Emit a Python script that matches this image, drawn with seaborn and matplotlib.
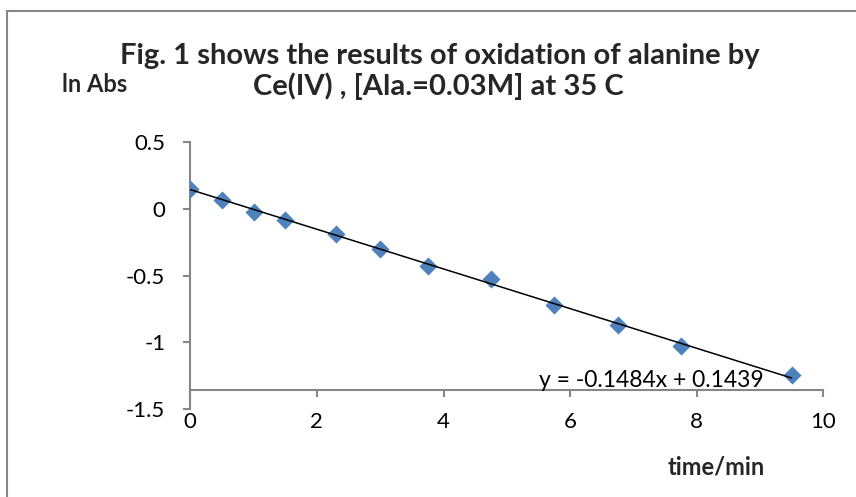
import matplotlib
matplotlib.use("Agg")
import matplotlib.pyplot as plt
import seaborn as sns
import pandas as pd
from matplotlib.patches import Rectangle

# Kinetic run: ln(absorbance) against time
time_min = [0, 0.5, 1.0, 1.5, 2.3, 3.0, 3.75, 4.75, 5.75, 6.75, 7.75, 9.5]
ln_abs = [0.152, 0.063, -0.022, -0.084, -0.191, -0.301, -0.425, -0.522,
          -0.719, -0.870, -1.030, -1.246]

# Linear trendline coefficients
slope = -0.1484
intercept = 0.1439

x_ticks = [0, 2, 4, 6, 8, 10]
y_ticks = [0.5, 0, -0.5, -1, -1.5]
y_tick_labels = ["0.5", "0", "-0.5", "-1", "-1.5"]
x_tick_labels = ["0", "2", "4", "6", "8", "10"]

title_lines = ["Fig. 1 shows the results of oxidation of alanine by",
               "Ce(IV) , [Ala.=0.03M] at 35 C"]
y_label = "ln Abs"
x_label = "time/min"
equation = f"y = {slope}x + {intercept}"

sns.set_theme(style="white")
plt.rcParams["font.family"] = ["Lato", "DejaVu Sans"]
plt.rcParams["axes.unicode_minus"] = False

AXIS_GREY = "#868686"
MARKER_BLUE = "#4F81BD"

fig = plt.figure(figsize=(8.56, 4.97), dpi=100)
ax = fig.add_axes([190.3 / 856, 1 - 409.3 / 497, 633 / 856, 267.3 / 497])

df = pd.DataFrame({"time": time_min, "lnabs": ln_abs})
sns.scatterplot(data=df, x="time", y="lnabs", marker="D", s=85,
                color=MARKER_BLUE, linewidth=0, ax=ax, zorder=3)

trend = pd.DataFrame({"time": [time_min[0], time_min[-1]]})
trend["fit"] = slope * trend["time"] + intercept
sns.lineplot(data=trend, x="time", y="fit", color="black", linewidth=1.1,
             ax=ax, zorder=4)

ax.set_xlim(0, 10)
ax.set_ylim(-1.5, 0.5)
ax.set_xticks(x_ticks)
ax.set_xticklabels(x_tick_labels)
ax.set_yticks(y_ticks)
ax.set_yticklabels(y_tick_labels)
ax.set_xlabel("")
ax.set_ylabel("")

for side in ("top", "right"):
    ax.spines[side].set_visible(False)
for side in ("left", "bottom"):
    ax.spines[side].set_color(AXIS_GREY)
    ax.spines[side].set_linewidth(1.5)
ax.spines["bottom"].set_position(("data", -1.353))

ax.tick_params(axis="both", which="major", direction="out", length=5,
               width=1.5, color=AXIS_GREY, labelsize=16, labelcolor="black",
               bottom=True, left=True)
ax.tick_params(axis="x", pad=11)
ax.tick_params(axis="y", pad=13)

ax.text(7.28, -1.286, equation, ha="center", va="center", fontsize=16.5,
        color="black", zorder=5)

fig.text(440 / 856, 1 - 56 / 497, title_lines[0], ha="center", va="center",
         fontsize=21, fontweight="bold")
fig.text(438 / 856, 1 - 86 / 497, title_lines[1], ha="center", va="center",
         fontsize=21, fontweight="bold")
fig.text(95 / 856, 1 - 85 / 497, y_label, ha="center", va="center",
         fontsize=17, fontweight="bold")
fig.text(716 / 856, 1 - 467 / 497, x_label, ha="center", va="center",
         fontsize=17, fontweight="bold")

# Chart area frame
fig.add_artist(Rectangle((7.5 / 856, -0.1), 2.0, 1 - 10.5 / 497 + 0.1,
                         transform=fig.transFigure, fill=False,
                         edgecolor=AXIS_GREY, linewidth=1.5))

fig.savefig("out.png", dpi=100, facecolor="white")
